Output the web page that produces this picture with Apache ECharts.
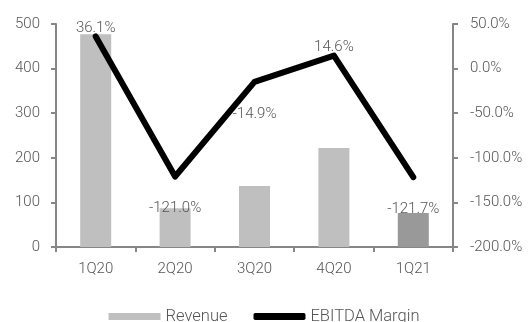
<!DOCTYPE html>
<html>
<head>
<meta charset="utf-8">
<script src="https://cdn.jsdelivr.net/npm/echarts@6/dist/echarts.min.js"></script>
<style>
  html, body { margin: 0; padding: 0; background: #fff; }
  #chart { width: 528px; height: 322px; }
</style>
</head>
<body>
<div id="chart"></div>
<script>
// Quarterly revenue (left axis) and EBITDA margin in % (right axis)
const quarters = ['1Q20', '2Q20', '3Q20', '4Q20', '1Q21'];
const revenue = [477, 87, 137, 222, 76];
const ebitdaMargin = [36.1, -121.0, -14.9, 14.6, -121.7];
const revenueTicks = [0, 100, 200, 300, 400, 500];
const marginTicks = [-200, -150, -100, -50, 0, 50];

const FONT = 'Roboto, "Liberation Sans", sans-serif';
const WEIGHT = 300;
const TEXT = '#555555';
const AXIS = '#868686';
const SIZE = 15;

const chart = echarts.init(document.getElementById('chart'), null, { renderer: 'canvas' });

// Latest quarter is shaded darker
const barData = revenue.map((v, i) => ({
  value: v,
  itemStyle: { color: i === revenue.length - 1 ? '#999999' : '#bfbfbf' }
}));

// Positive margins labelled above the line, negative ones below
const lineData = ebitdaMargin.map(v => ({
  value: v,
  label: v >= 0
    ? { position: 'top', distance: 0 }
    : { position: 'bottom', distance: 24 }
}));

const textStyle = { color: TEXT, fontSize: SIZE, fontFamily: FONT, fontWeight: WEIGHT };

chart.setOption({
  animation: false,
  textStyle: { fontFamily: FONT, fontWeight: WEIGHT },
  grid: {
    left: 56, right: 75, top: 24, bottom: 75,
    containLabel: false,
    outerBoundsMode: 'none'
  },
  legend: {
    top: 303,
    left: 'center',
    itemGap: 26,
    itemWidth: 52,
    itemHeight: 7,
    textStyle: Object.assign({}, textStyle, { fontSize: 16.5 }),
    data: [
      { name: 'Revenue', icon: 'rect', itemStyle: { color: '#bfbfbf' } },
      { name: 'EBITDA Margin', icon: 'roundRect', itemStyle: { color: '#000' } }
    ]
  },
  xAxis: {
    type: 'category',
    data: quarters,
    axisLine: { lineStyle: { color: AXIS, width: 2 } },
    axisTick: { show: true, length: 5, lineStyle: { color: AXIS, width: 2 } },
    axisLabel: Object.assign({ margin: 15 }, textStyle)
  },
  yAxis: [
    {
      type: 'value',
      min: revenueTicks[0],
      max: revenueTicks[revenueTicks.length - 1],
      interval: 100,
      splitLine: { show: false },
      axisLine: { show: true, lineStyle: { color: AXIS, width: 2 } },
      axisTick: { show: true, length: 5, lineStyle: { color: AXIS, width: 2 } },
      axisLabel: Object.assign({ margin: 16 }, textStyle)
    },
    {
      type: 'value',
      min: marginTicks[0],
      max: marginTicks[marginTicks.length - 1],
      interval: 50,
      splitLine: { show: false },
      axisLine: { show: true, lineStyle: { color: AXIS, width: 2 } },
      axisTick: { show: true, length: 5, lineStyle: { color: AXIS, width: 2 } },
      axisLabel: Object.assign({
        margin: 17,
        formatter: v => v.toFixed(1) + '%'
      }, textStyle)
    }
  ],
  series: [
    {
      name: 'Revenue',
      type: 'bar',
      yAxisIndex: 0,
      barWidth: 31,
      data: barData,
      itemStyle: { color: '#bfbfbf' }
    },
    {
      name: 'EBITDA Margin',
      type: 'line',
      yAxisIndex: 1,
      data: lineData,
      symbol: 'circle',
      symbolSize: 1,
      showSymbol: true,
      lineStyle: { color: '#000', width: 6, cap: 'round', join: 'round' },
      itemStyle: { color: '#000' },
      label: Object.assign({
        show: true,
        formatter: p => p.value.toFixed(1) + '%'
      }, textStyle),
      z: 5
    }
  ]
});
</script>
</body>
</html>
